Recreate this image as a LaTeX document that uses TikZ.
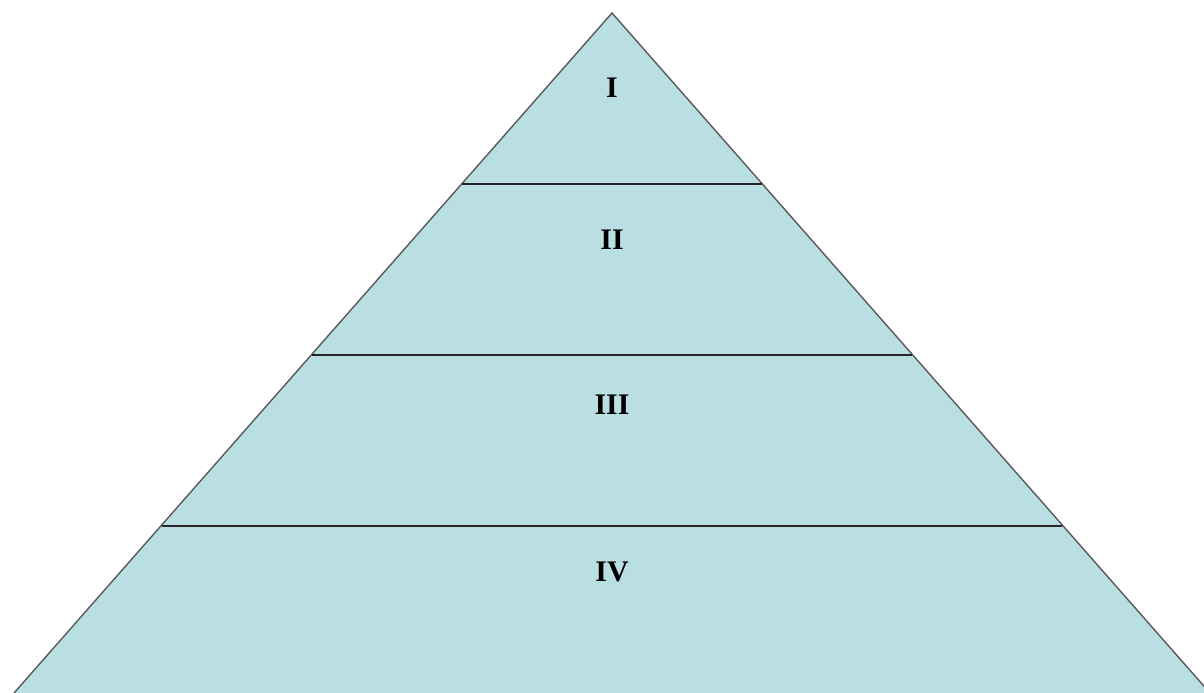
\documentclass[tikz,border=0pt]{standalone}
\usepackage{fontspec}
\setmainfont{Liberation Serif}
\usepackage{tikz}
\definecolor{pyrfill}{RGB}{186,223,227}
\definecolor{pyredge}{RGB}{90,90,90}

\begin{document}
\begin{tikzpicture}[
  x=0.02cm, y=-0.02cm,
  tier/.style={font=\fontsize{17pt}{20pt}\selectfont\bfseries, anchor=center},
  sep/.style={draw=black!85, line width=0.9pt}
]
  \useasboundingbox (0,0) rectangle (1204,693);

  \coordinate (apex) at (612,13);
  \coordinate (bl) at (14,693);
  \coordinate (br) at (1210,693);
  \coordinate (l1) at (462,184);
  \coordinate (r1) at (762,184);
  \coordinate (l2) at (312,355);
  \coordinate (r2) at (912,355);
  \coordinate (l3) at (162,526);
  \coordinate (r3) at (1062,526);

  \fill[pyrfill] (apex) -- (br) -- (bl) -- cycle;
  \draw[pyredge, line width=0.8pt] (bl) -- (apex) -- (br);

  \draw[sep] (l1) -- (r1);
  \draw[sep] (l2) -- (r2);
  \draw[sep] (l3) -- (r3);

  \node[tier] (t1) at (612,88) {I};
  \node[tier] (t2) at (612,240) {II};
  \node[tier] (t3) at (612,405) {III};
  \node[tier] (t4) at (612,572) {IV};
\end{tikzpicture}
\end{document}
